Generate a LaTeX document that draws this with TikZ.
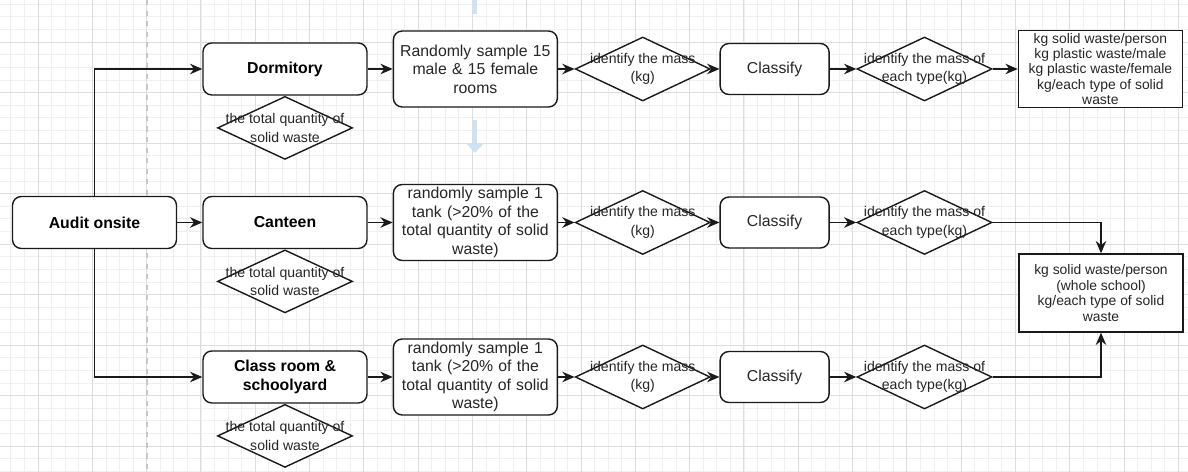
\documentclass[tikz,border=0pt]{standalone}
\usepackage{fontspec}
\setmainfont{Liberation Sans}
\usetikzlibrary{shapes.geometric, arrows.meta, positioning}
\definecolor{inkline}{HTML}{1A1A1A}
\definecolor{inktext}{HTML}{262626}
\definecolor{gridmajor}{HTML}{DDDDDD}
\definecolor{gridminor}{HTML}{F0F0F0}
\definecolor{ghostblue}{HTML}{CFE2F3}

\begin{document}
\begin{tikzpicture}[
    x=0.02cm, y=-0.02cm,
    node distance=0.52cm,
    stepbox/.style={rectangle, rounded corners=5pt, draw=inkline, line width=0.8pt, fill=white, minimum width=3.28cm, minimum height=1.04cm, inner sep=1pt, align=center, font=\fontsize{9}{10.5}\selectfont\bfseries},
    place/.style={rectangle, rounded corners=5pt, draw=inkline, line width=0.8pt, fill=white, minimum width=3.28cm, minimum height=1.52cm, inner sep=1pt, text width=3.2cm, align=center, text=inktext, font=\fontsize{9}{10.5}\selectfont},
    sortbox/.style={rectangle, rounded corners=5pt, draw=inkline, line width=0.8pt, fill=white, minimum width=2.18cm, minimum height=1.02cm, text=inktext, font=\fontsize{9}{10.5}\selectfont},
    check/.style={diamond, draw=inkline, line width=0.8pt, fill=white, inner sep=0pt, minimum width=2.7cm, minimum height=1.28cm},
    checktext/.style={align=center, text=inktext, font=\fontsize{8}{10.5}\selectfont},
    result/.style={rectangle, draw=inkline, line width=0.8pt, fill=white, minimum width=3.28cm, minimum height=1.55cm, inner sep=0pt, align=center, text=inktext, font=\fontsize{7.9}{8.8}\selectfont},
    arrow/.style={-{Stealth[length=7pt,width=6pt]}, draw=inkline, line width=0.8pt}
]
    \useasboundingbox (0,0) rectangle (1188,472);
    \fill[white] (0,0) rectangle (1188,472);

    % editor grid
    \begin{scope}
        \clip (0,0) rectangle (1188,472);
        \foreach \k in {-4,...,88} \draw[gridminor, line width=0.4pt] ({38+13.575*\k},0) -- ({38+13.575*\k},472);
        \foreach \k in {-4,...,36} \draw[gridminor, line width=0.4pt] (0,{42+12.625*\k}) -- (1188,{42+12.625*\k});
        \foreach \k in {-1,...,21} \draw[gridmajor, line width=0.5pt] ({38+54.3*\k},0) -- ({38+54.3*\k},472);
        \foreach \k in {-1,...,9} \draw[gridmajor, line width=0.5pt] (0,{42+50.5*\k}) -- (1188,{42+50.5*\k});
        \draw[black!22, dashed, line width=0.6pt] (147,0) -- (147,472);
    \end{scope}
    \coordinate (ghosttop) at (475,0);
    \coordinate (ghosttopend) at (475,14);
    \coordinate (ghostfrom) at (475,120);
    \coordinate (ghostto) at (475,153);
    \draw[ghostblue, line width=2.5pt] (ghosttop) -- (ghosttopend);
    \draw[ghostblue, line width=2.5pt, -{Triangle[length=5pt,width=9pt]}] (ghostfrom) -- (ghostto);

    \node[stepbox] (audit) at (94.5,222.5) {Audit onsite};
    \node[stepbox] (dorm) at (285,69) {Dormitory};
    \node[stepbox] (canteen) at (285,222.5) {Canteen};
    \node[stepbox] (class) at (285,377) {Class room \&\\schoolyard};

    \node[check, minimum height=1.26cm, below=0pt of dorm, label={[checktext]center:the total quantity of\\solid waste}] (total1) {};
    \node[check, minimum height=1.26cm, below=0pt of canteen, label={[checktext]center:the total quantity of\\solid waste}] (total2) {};
    \node[check, minimum height=1.26cm, below=0pt of class, label={[checktext]center:the total quantity of\\solid waste}] (total3) {};

    \node[place, right=0.5cm of dorm] (samp1) {Randomly sample 15\\male \& 15 female\\rooms};
    \node[place, right=0.5cm of canteen] (samp2) {randomly sample 1\\tank (>20\% of the\\total quantity of solid\\waste)};
    \node[place, right=0.5cm of class] (samp3) {randomly sample 1\\tank (>20\% of the\\total quantity of solid\\waste)};

    \node[check, right=0.33cm of samp1, label={[checktext]center:identify the mass\\(kg)}] (mass1) {};
    \node[check, right=0.33cm of samp2, label={[checktext]center:identify the mass\\(kg)}] (mass2) {};
    \node[check, right=0.33cm of samp3, label={[checktext]center:identify the mass\\(kg)}] (mass3) {};

    \node[sortbox, right=0.17cm of mass1] (cls1) {Classify};
    \node[sortbox, right=0.17cm of mass2] (cls2) {Classify};
    \node[sortbox, right=0.17cm of mass3] (cls3) {Classify};

    \node[check, right=0.53cm of cls1, label={[checktext]center:identify the mass of\\each type(kg)}] (type1) {};
    \node[check, right=0.53cm of cls2, label={[checktext]center:identify the mass of\\each type(kg)}] (type2) {};
    \node[check, right=0.53cm of cls3, label={[checktext]center:identify the mass of\\each type(kg)}] (type3) {};

    \node[result, right=0.5cm of type1] (out1) {kg solid waste/person\\kg plastic waste/male\\kg plastic waste/female\\kg/each type of solid\\waste};
    \node[result, minimum height=1.56cm] (out2) at (1101,293) {kg solid waste/person\\(whole school)\\kg/each type of solid\\waste};

    \draw[arrow] (audit.north) |- (dorm.west);
    \draw[arrow] (audit) -- (canteen);
    \draw[arrow] (audit.south) |- (class.west);

    \draw[arrow] (dorm) -- (samp1);
    \draw[arrow] (samp1) -- (mass1);
    \draw[arrow] (mass1) -- (cls1);
    \draw[arrow] (cls1) -- (type1);
    \draw[arrow] (type1) -- (out1);

    \draw[arrow] (canteen) -- (samp2);
    \draw[arrow] (samp2) -- (mass2);
    \draw[arrow] (mass2) -- (cls2);
    \draw[arrow] (cls2) -- (type2);
    \draw[arrow] (type2.east) -| (out2.north);

    \draw[arrow] (class) -- (samp3);
    \draw[arrow] (samp3) -- (mass3);
    \draw[arrow] (mass3) -- (cls3);
    \draw[arrow] (cls3) -- (type3);
    \draw[arrow] (type3.east) -| (out2.south);
\end{tikzpicture}
\end{document}
